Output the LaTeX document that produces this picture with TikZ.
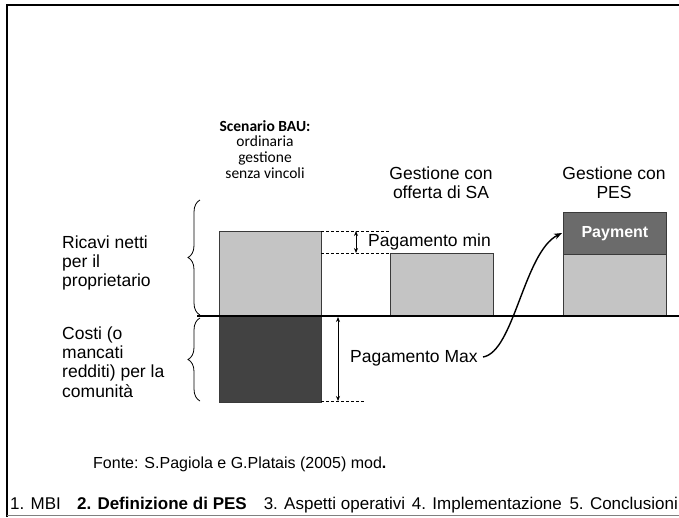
\documentclass[tikz,border=0pt]{standalone}
\usepackage{fontspec}
\setmainfont{Liberation Sans}
\newfontfamily\calib{Carlito}
\usetikzlibrary{decorations.pathreplacing,arrows.meta}
\begin{document}
\begin{tikzpicture}[x=1pt,y=-1pt,
  lbl/.style={font=\fontsize{17.5}{19}\selectfont, inner sep=0pt},
  ttl/.style={font=\fontsize{17.5}{19}\selectfont, align=center, inner sep=0pt},
  light/.style={fill=barlight, draw=bardraw, line width=0.8pt},
  dark/.style={fill=bardark, draw=bardraw, line width=0.8pt},
  pay/.style={fill=barpay, draw=bardraw, line width=0.8pt},
  dsh/.style={dashed, line width=0.6pt, dash pattern=on 3pt off 2pt},
  dbl/.style={{Stealth[length=5pt,width=4pt]}-{Stealth[length=5pt,width=4pt]}, line width=0.8pt},
  brc/.style={decorate, decoration={brace, amplitude=12pt, mirror}, line width=0.8pt},
  botfont/.style={font=\fontsize{17}{18}\selectfont, inner sep=0pt, anchor=base west}
]
\definecolor{barlight}{HTML}{C4C4C4}
\definecolor{bardark}{HTML}{424242}
\definecolor{barpay}{HTML}{6B6B6B}
\definecolor{bardraw}{HTML}{3A3A3A}
\useasboundingbox (0,0) rectangle (679,517);
% frame
\draw[line width=2pt] (7,517) -- (7,5) -- (679,5);
\draw[gray, line width=1pt] (7,515.5) -- (679,515.5);

% bars
\node[light, minimum width=102pt, minimum height=85pt, inner sep=0pt, anchor=north west] (bauT) at (219,231) {};
\node[dark, minimum width=102pt, minimum height=86pt, inner sep=0pt, anchor=north west] (bauB) at (219,316) {};
\node[light, minimum width=103pt, minimum height=63pt, inner sep=0pt, anchor=north west] (sa) at (390,253) {};
\node[light, minimum width=103pt, minimum height=62pt, inner sep=0pt, anchor=north west] (pesB) at (563,254) {};
\node[pay, minimum width=103pt, minimum height=42pt, inner sep=0pt, anchor=north west, text=white, font=\bfseries\fontsize{16}{18}\selectfont] (pesT) at (563,212) {Payment};

% axis
\coordinate (axL) at (197,316);
\coordinate (axR) at (679,316);
\draw[line width=2.4pt] (axL) -- (axR);

% braces
\coordinate (b1t) at (200,200);
\coordinate (b1b) at (200,315);
\coordinate (b2t) at (200,318);
\coordinate (b2b) at (200,401);
\draw[brc] (b1t) -- (b1b);
\draw[brc] (b2t) -- (b2b);

% left labels
\node[lbl, anchor=base west] (r1) at (62,248) {Ricavi netti};
\node[lbl, anchor=base west] (r2) at (62,267) {per il};
\node[lbl, anchor=base west] (r3) at (62,286) {proprietario};
\node[lbl, anchor=base west] (c1) at (62,339) {Costi (o};
\node[lbl, anchor=base west] (c2) at (62,358) {mancati};
\node[lbl, anchor=base west] (c3) at (62,377) {redditi) per la};
\node[lbl, anchor=base west] (c4) at (62,397) {comunità};

% headings
\node[font=\calib\fontsize{15.5}{15.7}\selectfont, align=center, inner sep=0pt, anchor=north] (bau) at (265,120)
  {\textbf{Scenario BAU:}\\ordinaria\\gestione\\senza vincoli};
\node[ttl, anchor=north] (hsa) at (441,167) {Gestione con\\offerta di SA};
\node[ttl, anchor=north] (hpes) at (614,167) {Gestione con\\PES};

% dashed guides
\coordinate (d1a) at (321,231); \coordinate (d1b) at (390,231);
\coordinate (d2a) at (321,253); \coordinate (d2b) at (390,253);
\coordinate (d3a) at (321,401); \coordinate (d3b) at (365,401);
\draw[dsh] (d1a) -- (d1b);
\draw[dsh] (d2a) -- (d2b);
\draw[dsh] (d3a) -- (d3b);

% double arrows
\coordinate (m1) at (356,231); \coordinate (m2) at (356,253);
\draw[dbl] (m1) -- (m2);
\coordinate (M1) at (338,317); \coordinate (M2) at (338,401);
\draw[dbl] (M1) -- (M2);

\node[lbl, anchor=west] (pmin) at (368,242) {Pagamento min};
\node[lbl, anchor=west] (pmax) at (350,358) {Pagamento Max};

% curved arrow
\coordinate (cs) at (483,357);
\coordinate (ce) at (562,233);
\draw[-{Stealth[length=8pt,width=6pt]}, line width=1.4pt] (cs) .. controls (514,352) and (524,252) .. (ce);

% source
\node[font=\fontsize{16}{18}\selectfont, inner sep=0pt, anchor=base west] (src) at (93,468) {Fonte: S.Pagiola e G.Platais (2005) mod\textbf{.}};

% bottom bar
\node[botfont] (nav) at (10,509) {1. MBI\hspace{0.95em}\textbf{2. Definizione di PES}\hspace{1em}3. Aspetti operativi\hspace{0.4em}4. Implementazione\hspace{0.45em}5. Conclusioni};
\end{tikzpicture}
\end{document}
